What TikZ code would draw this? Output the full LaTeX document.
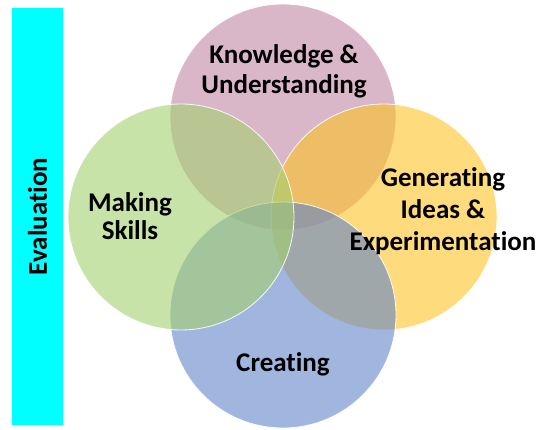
\documentclass[tikz,border=0pt]{standalone}
\usepackage{fontspec}
\setmainfont{Carlito}[Ligatures={NoCommon}]
\definecolor{pinkc}{RGB}{193,133,165}
\definecolor{yellowc}{RGB}{253,195,37}
\definecolor{bluec}{RGB}{98,133,202}
\definecolor{greenc}{RGB}{163,208,110}
\definecolor{evalc}{RGB}{0,255,255}
\tikzset{
  venn/.style={circle, minimum size=226pt, inner sep=0pt, draw=white, line width=0.8pt, fill opacity=0.6, draw opacity=0.9},
  lbl/.style={font=\bfseries\fontsize{27}{30}\selectfont, align=center, text=black, inner sep=0pt},
}
\begin{document}
\begin{tikzpicture}[x=1pt,y=-1pt]
\useasboundingbox (0,0) rectangle (539,430);
\node[venn, fill=pinkc] (know) at (283,117) {};
\node[venn, fill=yellowc] (gen) at (384,217) {};
\node[venn, fill=bluec] (create) at (283,315) {};
\node[venn, fill=greenc] (make) at (181,217) {};
\node[fill=evalc, minimum width=51pt, minimum height=417pt, inner sep=0pt] (eval) at (37.5,216.5) {};
\node[lbl, rotate=90] (evaltxt) at (eval) {Evaluation};
\node[lbl] (knowtxt) at (284,71) {Knowledge \&\\Understanding};
\node[lbl, font=\bfseries\fontsize{27}{32}\selectfont] (gentxt) at (443,211) {Generating\\Ideas \&\\Experimentation};
\node[lbl, font=\bfseries\fontsize{27}{28}\selectfont] (maketxt) at (130,216) {Making\\Skills};
\node[lbl] (createtxt) at (283,364) {Creating};
\end{tikzpicture}
\end{document}
